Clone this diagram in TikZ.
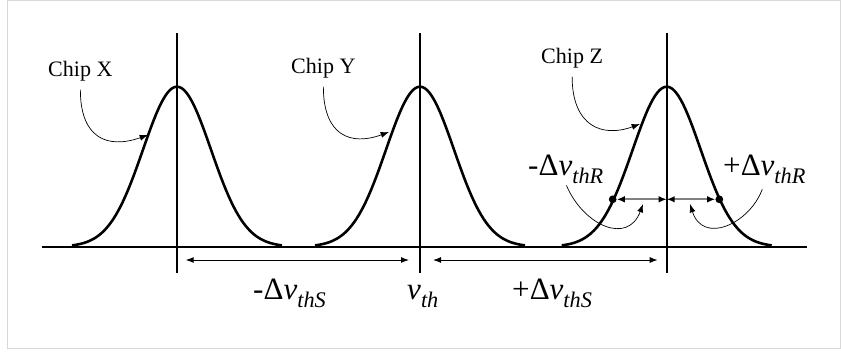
\documentclass[tikz,border=0pt]{standalone}
\usepackage{fontspec}
\setmainfont{Liberation Serif}
\usepackage{tikz}
\usetikzlibrary{arrows.meta}
\definecolor{ink}{HTML}{000000}
\definecolor{framegray}{HTML}{D9D9D9}
\definecolor{spangray}{HTML}{808080}
\newcommand{\lowsub}[1]{\raisebox{-0.27em}{\fontsize{19}{19}\selectfont\itshape #1}}

\begin{document}
\begin{tikzpicture}[x=0.03cm,y=-0.03cm,
  gauss/.style={draw=ink,line width=2.2pt,line join=round},
  axisline/.style={draw=ink,line width=1.7pt},
  centerline/.style={draw=ink,line width=1.4pt},
  span/.style={{Latex[length=2.4mm,width=1.8mm]}-{Latex[length=2.4mm,width=1.8mm]},line width=0.85pt,color=ink},
  rspan/.style={{Latex[length=2.4mm,width=2.0mm,color=ink]}-{Latex[length=2.4mm,width=2.0mm,color=ink]},line width=1.4pt,color=spangray},
  pointer/.style={-{Latex[length=2.5mm,width=1.8mm]},line width=0.6pt,color=ink},
  chiplab/.style={font=\fontsize{18.8}{20}\selectfont,inner sep=0pt,anchor=base west},
  deltalab/.style={font=\fontsize{26.5}{28}\selectfont,inner sep=0pt,anchor=base west},
  dot/.style={circle,fill=ink,inner sep=0pt,minimum size=6.6pt}
]
  \useasboundingbox (0,0) rectangle (841,354);
  \draw[framegray,line width=0.9pt] (7.3,0.8) rectangle (840.3,348.3);

  % axis and the three distributions
  \draw[axisline] (42,246.7) -- (807,246.7);
  \draw[gauss] plot[domain=-105:105,samples=91] (\x+177,{246.7-160*exp(-((\x)*(\x))/2312)});
  \draw[gauss] plot[domain=-105:105,samples=91] (\x+420,{246.7-160*exp(-((\x)*(\x))/2312)});
  \draw[gauss] plot[domain=-105:105,samples=91] (\x+666.7,{246.7-160*exp(-((\x)*(\x))/2312)});
  \draw[centerline] (177,33) -- (177,273);
  \draw[centerline] (420,33) -- (420,273);
  \draw[centerline] (666.7,33) -- (666.7,273);

  % chip labels
  \node[chiplab] (chipx) at (48,76) {Chip X};
  \node[chiplab] (chipy) at (291,73) {Chip Y};
  \node[chiplab] (chipz) at (541,63) {Chip Z};
  \coordinate (xtip) at (148,135);
  \coordinate (ytip) at (389,132);
  \coordinate (ztip) at (640,124);
  \draw[pointer,shorten <=7.5pt] (chipx.south) .. controls +(0,58) and +(-40,14) .. (xtip);
  \draw[pointer,shorten <=7.5pt] (chipy.south) .. controls +(0,58) and +(-38,14) .. (ytip);
  \draw[pointer,shorten <=7.5pt] (chipz.south) .. controls +(0,58) and +(-38,14) .. (ztip);

  % shift spans
  \coordinate (sl1) at (185.7,260);
  \coordinate (sl2) at (409,260);
  \coordinate (sr1) at (433,260);
  \coordinate (sr2) at (657.7,260);
  \draw[span] (sl1) -- (sl2);
  \draw[span] (sr1) -- (sr2);
  \node[deltalab] (dvsl) at (253,299) {-Δ\textit{v}\lowsub{thS}};
  \node[deltalab] (vth) at (407,299) {\textit{v}\lowsub{th}};
  \node[deltalab] (dvsr) at (512,299) {+Δ\textit{v}\lowsub{thS}};

  % read window on chip Z
  \node[dot] (dl) at (612.7,199.3) {};
  \node[dot] (dr) at (719.3,199.3) {};
  \coordinate (zmid) at (666.7,199.3);
  \draw[rspan] (dl) -- (zmid);
  \draw[rspan] (zmid) -- (dr);
  \node[deltalab] (dvrl) at (528,175) {-Δ\textit{v}\lowsub{thR}};
  \node[deltalab] (dvrr) at (723,175) {+Δ\textit{v}\lowsub{thR}};
  \coordinate (rltip) at (643,204);
  \coordinate (rrtip) at (690,204);
  \draw[pointer,shorten <=1.5pt] (dvrl.south) .. controls +(18,42) and +(-15,41) .. (rltip);
  \draw[pointer,shorten <=5pt] (dvrr.south) .. controls +(-15,40) and +(13,41) .. (rrtip);
\end{tikzpicture}
\end{document}
